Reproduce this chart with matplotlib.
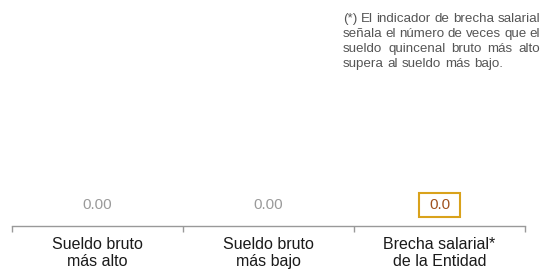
import matplotlib
matplotlib.use("Agg")
import matplotlib.pyplot as plt
from matplotlib.font_manager import FontProperties
from matplotlib.path import Path

categories = ["Sueldo bruto\nmás alto", "Sueldo bruto\nmás bajo", "Brecha salarial*\nde la Entidad"]
values = [0.00, 0.00, 0.0]
value_labels = ["0.00", "0.00", "0.0"]
note_lines = ["(*) El indicador de brecha salarial",
              "señala el número de veces que el",
              "sueldo quincenal bruto más alto",
              "supera al sueldo más bajo."]

plt.rcParams['font.family'] = ['Liberation Sans', 'DejaVu Sans']
W, H = 545, 271
fig = plt.figure(figsize=(W / 100, H / 100), dpi=100)
ax = fig.add_axes([12 / W, 45 / H, 513 / W, 150 / H])
ax.set_xlim(0, len(categories))
ax.set_ylim(0, 1)
for s in ['top', 'left', 'right']:
    ax.spines[s].set_visible(False)
ax.spines['bottom'].set_color('#999999')
ax.spines['bottom'].set_linewidth(1.0)
ax.set_yticks([])
ax.set_xticks(range(len(categories) + 1))
ax.set_xticklabels([])
ax.tick_params(axis='x', which='major', length=4, width=1.0, color='#999999', direction='out')
ax.set_xticks([i + 0.5 for i in range(len(categories))], minor=True)
ax.set_xticklabels(categories, minor=True, fontsize=11.5, color='#1a1a1a', linespacing=1.15)
ax.tick_params(axis='x', which='minor', length=0, pad=8)


def wide_box(x0, y0, width, height, mutation_size):
    px = 0.62 * mutation_size
    py = 0.34 * mutation_size
    xa, ya = x0 - px, y0 - py
    xb, yb = x0 + width + px, y0 + height + py
    return Path([(xa, ya), (xb, ya), (xb, yb), (xa, yb), (xa, ya)], closed=True)


for i, (v, lab) in enumerate(zip(values, value_labels)):
    if i == len(values) - 1:
        ax.annotate(lab, xy=(i + 0.5, v), xytext=(0, 21), textcoords='offset pixels',
                    ha='center', va='center', fontsize=11, color='#A0521E',
                    bbox=dict(boxstyle=wide_box, fc='white', ec='#D9A21B', lw=1.5))
    else:
        ax.annotate(lab, xy=(i + 0.5, v), xytext=(0, 21), textcoords='offset pixels',
                    ha='center', va='center', fontsize=11, color='#9a9a9a')

# justified note
fp = FontProperties(family=['Liberation Sans', 'DejaVu Sans'], size=9.6)
renderer = fig.canvas.get_renderer()
x0, x1 = 343, 540
baseline0 = 22
lh = 15
space_w = renderer.get_text_width_height_descent('a a', fp, ismath=False)[0] - \
    2 * renderer.get_text_width_height_descent('a', fp, ismath=False)[0]
if space_w <= 0:
    space_w = 3.7
for k, line in enumerate(note_lines):
    words = line.split(' ')
    y = H - (baseline0 + k * lh)
    widths = [renderer.get_text_width_height_descent(w, fp, ismath=False)[0] for w in words]
    if k < len(note_lines) - 1 and len(words) > 1:
        gap = (x1 - x0 - sum(widths)) / (len(words) - 1)
    else:
        gap = space_w
    x = x0
    for w, wd in zip(words, widths):
        fig.text(x / W, y / H, w, fontproperties=fp, color='#555555', ha='left', va='baseline')
        x += wd + gap

fig.savefig('out.png', dpi=100)
